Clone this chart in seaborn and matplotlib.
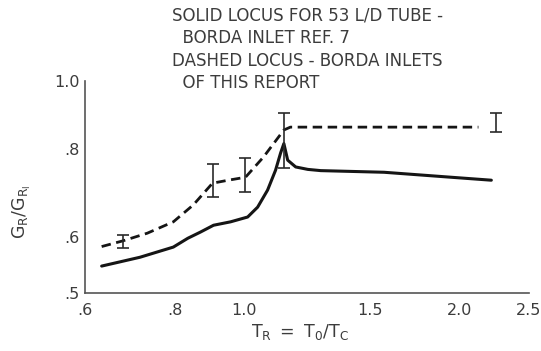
import matplotlib
matplotlib.use("Agg")
import matplotlib.pyplot as plt
from matplotlib.ticker import FixedLocator, FixedFormatter, NullLocator
import seaborn as sns

# Solid locus: 53 L/D tube, Borda inlet (ref. 7)
solid_tr = [0.633, 0.716, 0.797, 0.835, 0.869, 0.907, 0.958, 1.012, 1.045,
            1.079, 1.107, 1.125, 1.137, 1.151, 1.181, 1.228, 1.280, 1.569,
            1.947, 2.215]
solid_g = [0.546, 0.562, 0.581, 0.598, 0.610, 0.624, 0.631, 0.641, 0.662,
           0.700, 0.747, 0.790, 0.815, 0.772, 0.755, 0.749, 0.746, 0.742,
           0.730, 0.723]

# Dashed locus: Borda inlets of this report
dashed_tr = [0.633, 0.678, 0.733, 0.797, 0.850, 0.904, 0.951, 1.005, 1.065,
             1.137, 1.161, 2.125]
dashed_g = [0.582, 0.593, 0.608, 0.631, 0.667, 0.716, 0.723, 0.730, 0.780,
            0.852, 0.860, 0.860]

# Data spread bars
bar_tr = [0.678, 0.904, 1.005, 1.137, 2.252]
bar_low = [0.579, 0.684, 0.696, 0.752, 0.846]
bar_high = [0.604, 0.762, 0.777, 0.900, 0.900]

x_ticks = [0.6, 0.8, 1.0, 1.5, 2.0, 2.5]
x_labels = [".6", ".8", "1.0", "1.5", "2.0", "2.5"]
y_ticks = [0.5, 0.6, 0.8, 1.0]
y_labels = [".5", ".6", ".8", "1.0"]
y_minor = [0.7, 0.9]

sns.set_style("white")
font = ["Liberation Sans Narrow", "DejaVu Sans"]
plt.rcParams["font.family"] = font
plt.rcParams["mathtext.default"] = "regular"

ink = "#151515"
txt = "#3c3c3c"

fig = plt.figure(figsize=(5.41, 3.51), dpi=100)
ax = fig.add_axes([85 / 541, 58 / 351, 444 / 541, 212 / 351])

sns.lineplot(x=solid_tr, y=solid_g, ax=ax, sort=False, estimator=None,
             color=ink, linewidth=2.2)
sns.lineplot(x=dashed_tr, y=dashed_g, ax=ax, sort=False, estimator=None,
             color=ink, linewidth=2.0, linestyle=(0, (3.4, 2.0)))

centers = [(lo + hi) / 2 for lo, hi in zip(bar_low, bar_high)]
yerr = [[c - lo for c, lo in zip(centers, bar_low)],
        [hi - c for c, hi in zip(centers, bar_high)]]
ax.errorbar(bar_tr, centers, yerr=yerr, fmt="none", ecolor="#2a2a2a",
            elinewidth=1.2, capsize=4, capthick=1.2)

ax.set_xscale("log")
ax.set_yscale("log")
ax.set_xlim(0.6, 2.5)
ax.set_ylim(0.5, 1.0)

ax.xaxis.set_major_locator(FixedLocator(x_ticks))
ax.xaxis.set_major_formatter(FixedFormatter(x_labels))
ax.xaxis.set_minor_locator(NullLocator())
ax.yaxis.set_major_locator(FixedLocator(y_ticks))
ax.yaxis.set_major_formatter(FixedFormatter(y_labels))
ax.yaxis.set_minor_locator(FixedLocator(y_minor))
ax.yaxis.set_minor_formatter(FixedFormatter(["", ""]))

ax.tick_params(axis="both", which="major", direction="in", length=11,
               width=1.1, color="#555555", labelsize=11.5, labelcolor=txt)
ax.tick_params(axis="x", which="major", pad=7)
ax.tick_params(axis="y", which="major", pad=4)
ax.tick_params(axis="y", which="minor", direction="in", length=8,
               width=1.1, color="#555555")

for side in ("top", "right"):
    ax.spines[side].set_visible(False)
for side in ("left", "bottom"):
    ax.spines[side].set_color("#555555")
    ax.spines[side].set_linewidth(1.2)

fig.text(300 / 541, 1 - 332 / 351, r"$T_R\ =\ T_0/T_C$", ha="center",
         va="center", fontsize=12.5, color=txt)
fig.text(22 / 541, 1 - 212 / 351, r"$G_R/G_{R_I}$", ha="center",
         va="center", rotation=90, fontsize=12.5, color=txt)

lines = ["SOLID LOCUS FOR 53 L/D TUBE -",
         "  BORDA INLET REF. 7",
         "DASHED LOCUS - BORDA INLETS",
         "  OF THIS REPORT"]
for i, line in enumerate(lines):
    fig.text(172 / 541, 1 - (16 + 22.3 * i) / 351, line, ha="left",
             va="center", fontsize=12, color=txt)

fig.savefig("out.png", dpi=100)
